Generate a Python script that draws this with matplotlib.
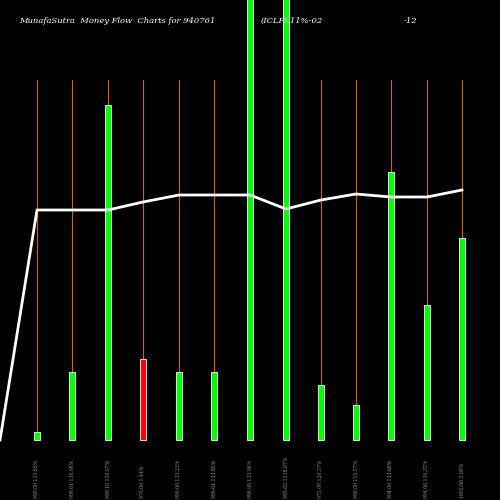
import matplotlib.pyplot as plt

# values (height above baseline, in chart units)
positions = [37, 72, 108, 143, 179, 214, 250, 286, 321, 356, 391, 427, 462]
volumes = [8, 68, 335, 81, 68, 68, 460, 460, 55, 35, 268, 135, 202]
colors = ['#00ff00'] * 13
colors[3] = '#ff0000'
line_x = [0] + positions
line_y = [0, 230, 230, 230, 238, 245, 245, 245, 231, 240, 246, 243, 243, 250]
labels = ['990.00 133.85%', '999.01 136.08%', '999.10 136.67%', '976.00 1.44%',
          '990.00 133.23%', '999.01 133.85%', '999.99 133.98%', '993.02 1138.07%',
          '975.00 126.37%', '999.00 115.57%', '994.00 133.68%', '994.00 130.37%',
          '1002.00 3.08%']

fig = plt.figure(figsize=(5, 5), dpi=100, facecolor='black')
ax = fig.add_axes([0, 0, 1, 1], facecolor='black')
ax.set_xlim(0, 500)
ax.set_ylim(-60, 440)
ax.axis('off')

for x in positions:
    ax.plot([x, x], [0, 360], color='#cc6600', linewidth=0.8, zorder=1)
ax.bar(positions, volumes, width=6, color=colors, edgecolor='white', linewidth=0.6, zorder=2)
ax.plot(line_x, line_y, color='white', linewidth=2, zorder=3)

for x, lab in zip(positions, labels):
    ax.text(x, -58, lab, color='#999999', fontsize=3.3, rotation=90,
            ha='center', va='bottom', family='DejaVu Serif')

ax.text(19, 419, 'MunafaSutra  Money Flow  Charts for 940761', color='white',
        fontsize=6, style='italic', family='DejaVu Serif', va='center')
ax.text(261, 419, '(ICLFL11%-02', color='white', fontsize=6, style='italic',
        family='DejaVu Serif', va='center')
ax.text(404, 419, '-12', color='white', fontsize=6, style='italic',
        family='DejaVu Serif', va='center')

fig.savefig('out.png', dpi=100, facecolor='black')
